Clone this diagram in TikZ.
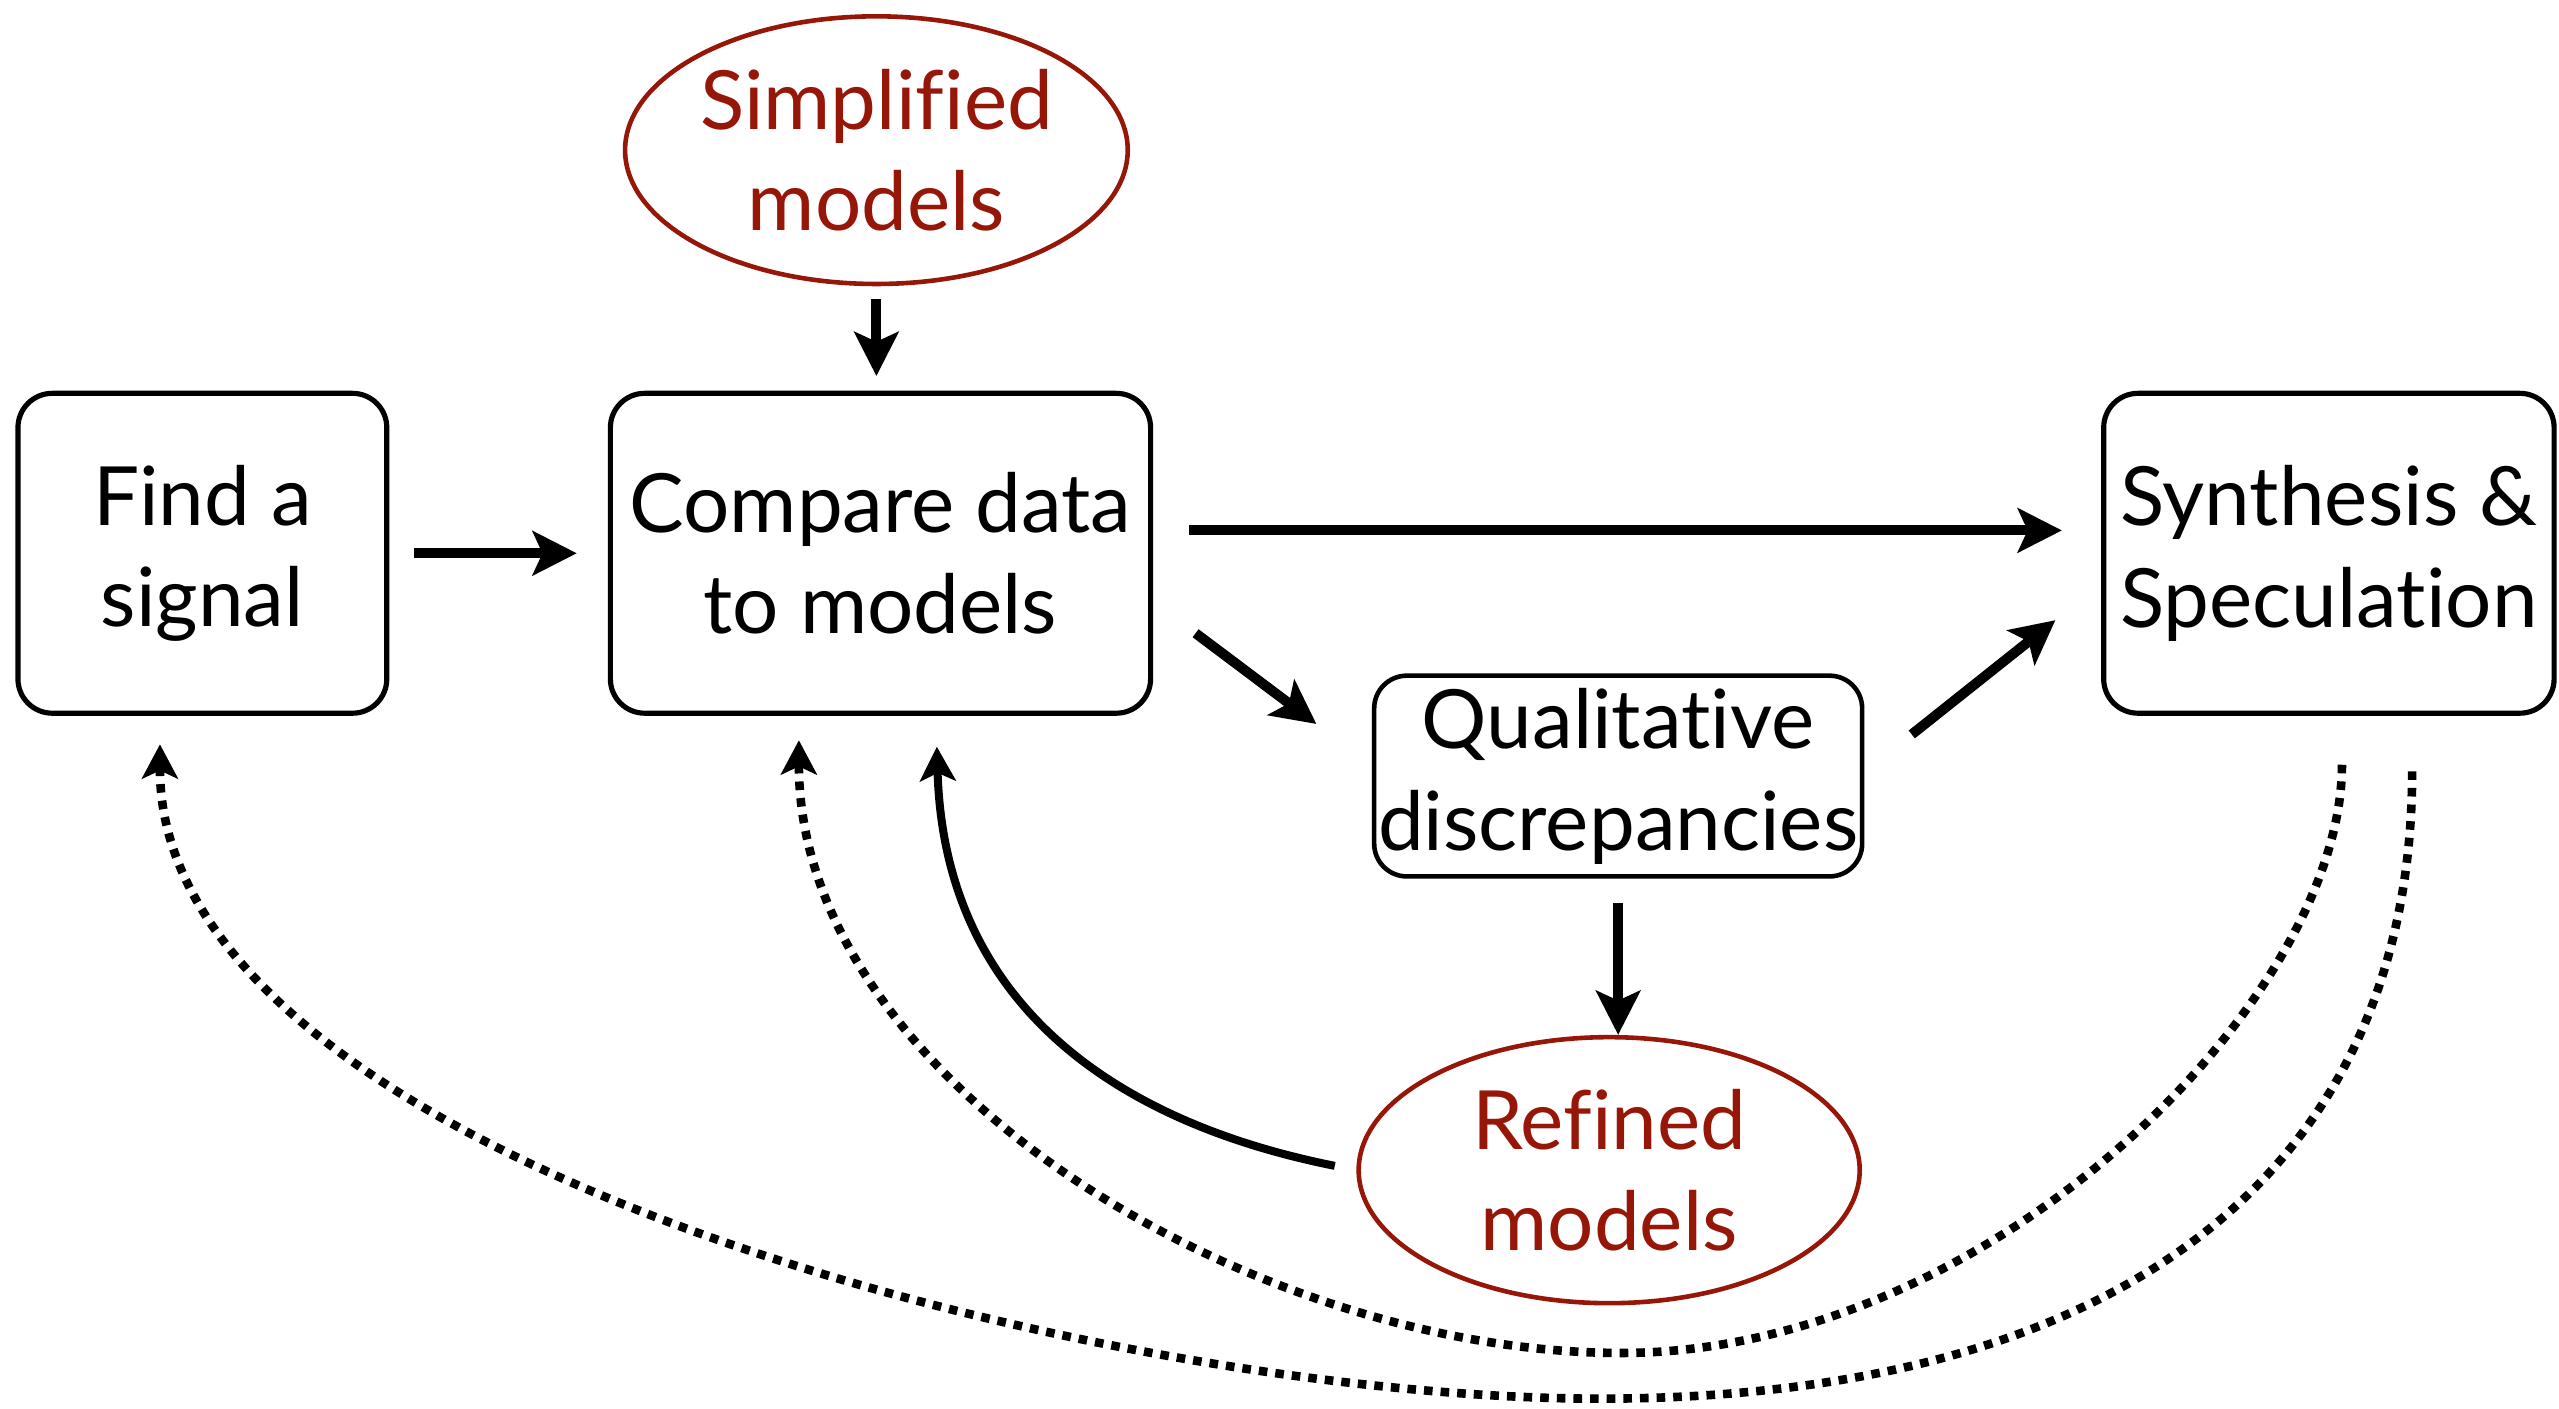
\documentclass[tikz,border=0pt]{standalone}
\usepackage{fontspec}
\setmainfont{Lato}[Ligatures=NoCommon]
\usepackage{xcolor}
\usetikzlibrary{arrows.meta,shapes.geometric}

\definecolor{modelred}{RGB}{150,22,8}

\begin{document}
\begin{tikzpicture}[
    font=\fontsize{28.5}{35.5}\selectfont,
    box/.style={draw, line width=1.8pt, rounded corners=0.42cm, align=center, inner sep=0pt},
    model/.style={ellipse, draw=modelred, text=modelred, line width=1.6pt, align=center, inner sep=0pt},
    flow/.style={line width=3.5pt, -{Stealth[length=5.4mm, width=5.4mm, inset=1.2mm]}},
    feedback/.style={line width=2.8pt, -{Stealth[length=4.2mm, width=4.4mm, inset=1mm]}},
    revisit/.style={line width=3pt, dash pattern=on 3pt off 2.8pt, -{Stealth[length=4.2mm, width=4.4mm, inset=1mm]}}
]
            \useasboundingbox (0, 0) rectangle (31.36, -17.26);

            % Main row
            \node (find) at (2.48, -6.78) [box, minimum width=4.52cm, minimum height=3.92cm] {Find a\\signal};
            \node (compare) at (10.79, -6.78) [box, minimum width=6.62cm, minimum height=3.92cm] {Compare data\\to models};
            \node (synth) at (28.54, -6.78) [box, minimum width=5.52cm, minimum height=3.92cm] {Synthesis \&\\Speculation};
            \node (qual) at (19.83, -9.51) [box, line width=1.6pt, rounded corners=0.4cm, minimum width=5.98cm, minimum height=2.46cm] {Qualitative\\discrepancies};

            % Models (red)
            \node (simple) at (10.74, -1.84) [model, minimum width=6.16cm, minimum height=3.28cm] {Simplified\\models};
            \node (refined) at (19.72, -14.34) [model, minimum width=6.14cm, minimum height=3.26cm] {Refined\\models};

            % Turning points of the long loops
            \coordinate (low1) at (19.87, -16.58);
            \coordinate (low2) at (19.6, -17.14);

            % Straight arrows
            \draw[flow, shorten <=0.3cm, shorten >=0.38cm] (find) -- (compare);
            \draw[flow, shorten <=0.16cm, shorten >=0.18cm] (simple.south) -- (simple.south |- compare.north);
            \draw[flow, shorten <=0.44cm, shorten >=0.48cm] ([yshift=0.28cm]compare.east) -- ([yshift=0.28cm]synth.west);
            \draw[flow] ([shift={(0.52,-0.98)}]compare.east) -- ([shift={(-0.68,-0.62)}]qual.north west);
            \draw[flow] ([shift={(0.58,0.51)}]qual.east) -- ([shift={(-0.56,-0.82)}]synth.west);
            \draw[flow, shorten <=0.3cm] (qual.south) -- (qual.south |- refined.north);

            % Refined models back to the comparison
            \draw[feedback, shorten <=0.27cm, shorten >=0.38cm] (refined.west) .. controls +(-3.0,0.6) and +(0.1,-3.5) .. ([xshift=0.68cm]compare.south);

            % Dotted loops from the synthesis
            \draw[revisit, shorten <=0.6cm, shorten >=0.3cm] ([xshift=0.16cm]synth.south) .. controls +(0,-3.5) and +(4.5,0) .. (low1)
                .. controls +(-4.5,0) and +(0,-4.5) .. ([xshift=-1cm]compare.south);
            \draw[revisit, shorten <=0.68cm, shorten >=0.35cm] ([xshift=1.02cm]synth.south) .. controls +(0,-5.5) and +(6.5,0) .. (low2)
                .. controls +(-6,0) and +(0,-5.5) .. ([xshift=-0.52cm]find.south);
        \end{tikzpicture}
\end{document}
